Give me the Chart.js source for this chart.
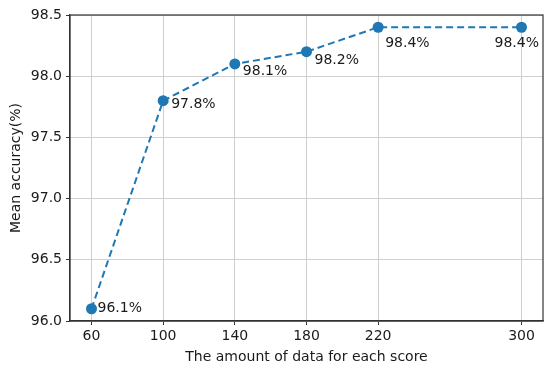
<!DOCTYPE html>
<html>
<head>
<meta charset="utf-8">
<script src="https://cdn.jsdelivr.net/npm/chart.js@4/dist/chart.umd.min.js"></script>
<style>
  html, body { margin: 0; padding: 0; background: #fff; }
  #wrap { width: 550px; height: 372px; position: relative; }
</style>
</head>
<body>
<div id="wrap"><canvas id="accChart"></canvas></div>
<script>
// datos
const dataAmount = [60, 100, 140, 180, 220, 300];
const meanAccuracy = [96.1, 97.8, 98.1, 98.2, 98.4, 98.4];
const pointLabels = ['96.1%', '97.8%', '98.1%', '98.2%', '98.4%', '98.4%'];
const xTicks = [60, 100, 140, 180, 220, 300];
const yTicks = [96.0, 96.5, 97.0, 97.5, 98.0, 98.5];

const fontFamily = '"DejaVu Sans", sans-serif';
const azul = '#1f77b4';

// desplazamiento de cada etiqueta respecto a su punto (px)
const offsetsEtiquetas = [[6, 0], [8, 4], [8, 7], [8, 9], [7, 16], [-27, 16]];

const etiquetasPlugin = {
    id: 'etiquetas',
    afterDatasetsDraw(chart) {
        const ctx = chart.ctx;
        const meta = chart.getDatasetMeta(0);
        ctx.save();
        ctx.font = '14px ' + fontFamily;
        ctx.fillStyle = '#1a1a1a';
        ctx.textAlign = 'left';
        ctx.textBaseline = 'middle';
        meta.data.forEach((pt, i) => {
            const off = offsetsEtiquetas[i];
            ctx.fillText(pointLabels[i], pt.x + off[0], pt.y + off[1]);
        });
        ctx.restore();
    }
};

const marcoPlugin = {
    id: 'marco',
    afterDraw(chart) {
        const a = chart.chartArea;
        const ctx = chart.ctx;
        ctx.save();
        ctx.strokeStyle = '#333';
        ctx.lineWidth = 1.2;
        ctx.strokeRect(a.left, a.top, a.right - a.left, a.bottom - a.top);
        ctx.restore();
    }
};

const ctx = document.getElementById('accChart').getContext('2d');
new Chart(ctx, {
    type: 'line',
    data: {
        datasets: [{
            data: dataAmount.map((x, i) => ({ x: x, y: meanAccuracy[i] })),
            borderColor: azul,
            backgroundColor: azul,
            borderWidth: 2,
            borderDash: [7, 4],
            pointRadius: 5.5,
            pointHoverRadius: 5.5,
            pointBackgroundColor: azul,
            pointBorderWidth: 0,
            tension: 0,
            clip: false
        }]
    },
    options: {
        responsive: true,
        maintainAspectRatio: false,
        animation: false,
        layout: { padding: { top: 15, right: 7, left: 0, bottom: 0 } },
        plugins: {
            legend: { display: false },
            tooltip: { enabled: false }
        },
        scales: {
            x: {
                type: 'linear',
                min: 48,
                max: 312,
                afterBuildTicks(scale) {
                    scale.ticks = xTicks.map(v => ({ value: v }));
                },
                afterFit(scale) { scale.height = 51; },
                grid: { color: '#cfcfcf', lineWidth: 1, tickColor: '#333', tickLength: 4 },
                border: { display: true, color: '#333', width: 1.2 },
                ticks: {
                    color: '#1a1a1a',
                    font: { family: fontFamily, size: 14 },
                    padding: 3,
                    maxRotation: 0,
                    callback: v => String(v)
                },
                title: {
                    display: true,
                    text: 'The amount of data for each score',
                    color: '#1a1a1a',
                    font: { family: fontFamily, size: 14 },
                    padding: { top: 0, bottom: 6 }
                }
            },
            y: {
                type: 'linear',
                min: 96.0,
                max: 98.5,
                afterBuildTicks(scale) {
                    scale.ticks = yTicks.map(v => ({ value: v }));
                },
                afterFit(scale) { scale.width = 70; },
                grid: { color: '#cfcfcf', lineWidth: 1, tickColor: '#333', tickLength: 4 },
                border: { display: true, color: '#333', width: 1.2 },
                ticks: {
                    color: '#1a1a1a',
                    font: { family: fontFamily, size: 14 },
                    padding: 4,
                    callback: v => Number(v).toFixed(1)
                },
                title: {
                    display: true,
                    text: 'Mean accuracy(%)',
                    color: '#1a1a1a',
                    font: { family: fontFamily, size: 14 },
                    padding: { top: 8, bottom: 0 }
                }
            }
        }
    },
    plugins: [etiquetasPlugin, marcoPlugin]
});
</script>
</body>
</html>
